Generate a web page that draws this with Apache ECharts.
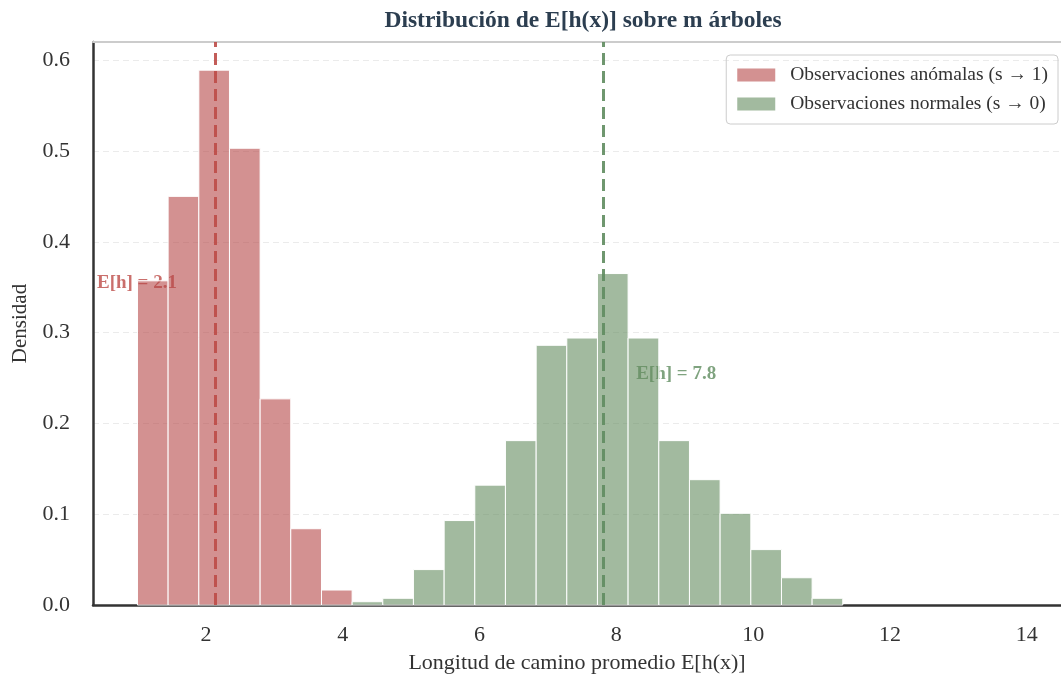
<!DOCTYPE html>
<html>
<head>
<meta charset="utf-8">
<script src="https://cdn.jsdelivr.net/npm/echarts@6/dist/echarts.min.js"></script>
<style>
html,body{margin:0;padding:0;background:#fff;}
#chart{width:1061px;height:681px;}
</style>
</head>
<body>
<div id="chart"></div>
<script>
// Bin edges shared by both histograms
const binEdges = [1.000, 1.448, 1.897, 2.345, 2.793, 3.241, 3.690, 4.138, 4.586, 5.034, 5.483, 5.931,
  6.379, 6.828, 7.276, 7.724, 8.172, 8.621, 9.069, 9.517, 9.966, 10.414, 10.862, 11.310];
// Density per bin
const anomalas = [0.357, 0.450, 0.589, 0.503, 0.227, 0.084, 0.0165, 0, 0, 0, 0, 0,
  0, 0, 0, 0, 0, 0, 0, 0, 0, 0, 0];
const normales = [0, 0, 0, 0, 0, 0, 0, 0.0036, 0.0074, 0.039, 0.093, 0.132,
  0.181, 0.286, 0.294, 0.365, 0.294, 0.181, 0.138, 0.101, 0.061, 0.030, 0.0074];
const seriesNames = ['Observaciones anómalas (s → 1)', 'Observaciones normales (s → 0)'];
const means = [2.13, 7.81];
const meanLabels = ['E[h] = 2.1', 'E[h] = 7.8'];
const labelPos = [[0.408, 0.355], [8.29, 0.254]];
const xTicks = [2, 4, 6, 8, 10, 12, 14];

const SERIF = '"Liberation Serif", "DejaVu Serif", serif';
const barColors = ['rgba(182,72,72,0.6)', 'rgba(100,140,95,0.6)'];
const lineColors = ['#bd4b47', '#5f8c5f'];

function histData(vals) {
  const out = [];
  vals.forEach((v, i) => { if (v > 0) out.push([binEdges[i], binEdges[i + 1], v]); });
  return out;
}

function makeRender(color) {
  return function (params, api) {
    const p0 = api.coord([api.value(0), api.value(2)]);
    const p1 = api.coord([api.value(1), 0]);
    return {
      type: 'rect',
      shape: { x: p0[0], y: p0[1], width: p1[0] - p0[0], height: p1[1] - p0[1] },
      style: { fill: color, stroke: '#ffffff', lineWidth: 1 }
    };
  };
}

const chart = echarts.init(document.getElementById('chart'), null, { renderer: 'canvas' });

const option = {
  animation: false,
  backgroundColor: '#ffffff',
  title: {
    text: 'Distribución de E[h(x)] sobre m árboles',
    left: 578, top: 4, textAlign: 'center',
    textStyle: { fontFamily: SERIF, fontSize: 23.5, fontWeight: 'bold', color: '#2c3e50' }
  },
  legend: {
    right: 3, top: 55, orient: 'vertical',
    itemWidth: 38, itemHeight: 13, itemGap: 9,
    padding: [10, 10, 10, 11],
    borderColor: '#cccccc', borderWidth: 1, borderRadius: 4,
    icon: 'rect',
    data: seriesNames,
    textStyle: { fontFamily: SERIF, fontSize: 19.5, color: '#333333', padding: [0, 0, 0, 10], lineHeight: 19 }
  },
  grid: { left: 93, right: 0, top: 42, bottom: 76, containLabel: false },
  xAxis: [{
    type: 'value', min: 0.35, max: 14.5,
    name: 'Longitud de camino promedio E[h(x)]', nameLocation: 'middle', nameGap: 47,
    nameTextStyle: { fontFamily: SERIF, fontSize: 22, color: '#333333' },
    axisLine: { show: true, onZero: false, lineStyle: { color: '#333333', width: 2.5 } },
    axisTick: { show: false },
    splitLine: { show: false },
    axisLabel: { customValues: xTicks, margin: 19, fontFamily: SERIF, fontSize: 22, color: '#333333' }
  }, {
    type: 'value', min: 0.35, max: 14.5, position: 'top',
    axisLine: { show: true, onZero: false, lineStyle: { color: '#cccccc', width: 2 } },
    axisTick: { show: false }, axisLabel: { show: false }, splitLine: { show: false }
  }],
  yAxis: {
    type: 'value', min: 0, max: 0.62, interval: 0.1,
    name: 'Densidad', nameLocation: 'middle', nameGap: 62,
    nameTextStyle: { fontFamily: SERIF, fontSize: 21, color: '#333333' },
    axisLine: { show: true, onZero: false, lineStyle: { color: '#333333', width: 2.5 } },
    axisTick: { show: false },
    splitLine: { show: true, lineStyle: { color: '#ebebeb', type: [6, 4], width: 1 } },
    axisLabel: {
      showMaxLabel: false, margin: 23, fontFamily: SERIF, fontSize: 22, color: '#333333',
      formatter: v => v.toFixed(1)
    }
  },
  series: [
    {
      type: 'scatter', name: 'labels', z: 1, symbolSize: 0, silent: true,
      data: meanLabels.map((t, i) => ({
        value: labelPos[i], label: {
          show: true, formatter: t, position: [0, 0], align: 'left', verticalAlign: 'middle',
          fontFamily: SERIF, fontSize: 19, fontWeight: 'bold', color: lineColors[i]
        }
      }))
    },
    ...[anomalas, normales].map((vals, i) => ({
      type: 'custom', name: seriesNames[i], z: 2,
      itemStyle: { color: barColors[i] },
      renderItem: makeRender(barColors[i]),
      encode: { x: [0, 1], y: 2 },
      data: histData(vals),
      markLine: {
        silent: true, symbol: ['none', 'none'], label: { show: false },
        lineStyle: { color: lineColors[i], type: [12, 6], width: 3, opacity: 0.9 },
        data: [{ xAxis: means[i] }]
      }
    }))
  ]
};
chart.setOption(option);
</script>
</body>
</html>
